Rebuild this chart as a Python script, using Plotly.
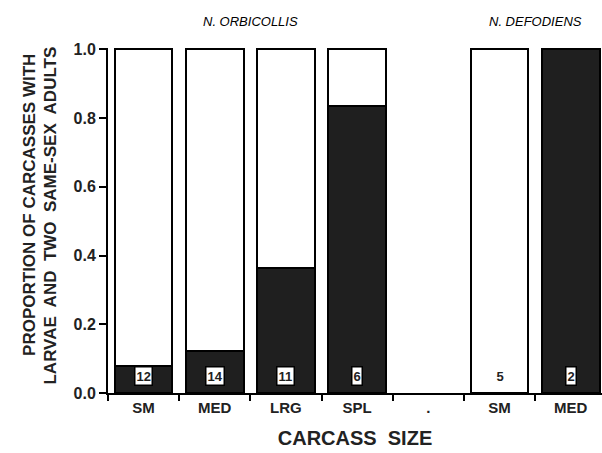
import plotly.graph_objects as go

# ---- data ----
categories = ["SM", "MED", "LRG", "SPL", ".", "SM", "MED"]
proportion = [0.078, 0.122, 0.365, 0.835, None, 0.0, 1.0]   # dark (proportion with two same-sex adults)
sample_n = ["12", "14", "11", "6", None, "5", "2"]
group_titles = ["N. ORBICOLLIS", "N. DEFODIENS"]
group_centers = [1.5, 5.5]
y_ticks = [0.0, 0.2, 0.4, 0.6, 0.8, 1.0]

x = list(range(len(categories)))
dark = [p if (p is not None and p > 0) else None for p in proportion]
white = [(1 - p) if (p is not None and p < 1) else None for p in proportion]

BAR_W = 0.81
DARK = "#1f1f1f"
FONT = "Liberation Sans, Arial, sans-serif"
SP = "&nbsp; "

fig = go.Figure()
fig.add_trace(go.Bar(x=x, y=dark, width=BAR_W, marker=dict(color=DARK, line=dict(color="black", width=2)),
                     showlegend=False, hoverinfo="skip"))
fig.add_trace(go.Bar(x=x, y=white, base=[p if p is not None else 0 for p in proportion], width=BAR_W,
                     marker=dict(color="white", line=dict(color="black", width=2)),
                     showlegend=False, hoverinfo="skip"))

for xi, n, p in zip(x, sample_n, proportion):
    if n is None:
        continue
    boxed = p is not None and p > 0
    fig.add_annotation(x=xi, y=0.05, xref="x", yref="y", text="<b>" + n + "</b>", showarrow=False,
                       font=dict(family=FONT, size=13, color="#222"),
                       bgcolor="white" if boxed else "rgba(0,0,0,0)",
                       bordercolor="black" if boxed else "rgba(0,0,0,0)",
                       borderwidth=1.5, borderpad=1)

for t, c in zip(group_titles, group_centers):
    fig.add_annotation(x=c, y=1.0, xref="x", yref="paper", yshift=36, text="<i>" + t + "</i>",
                       showarrow=False, font=dict(family=FONT, size=13, color="black"))

# y-axis title (two lines)
fig.add_annotation(x=-0.158, y=0.545, xref="paper", yref="paper", xanchor="center", yanchor="middle",
                   text="<b>" + " ".join(["PROPORTION", "OF", "CARCASSES", "WITH"]) + "</b>",
                   textangle=-90, showarrow=False, font=dict(family=FONT, size=17, color="#222"))
fig.add_annotation(x=-0.117, y=0.515, xref="paper", yref="paper", xanchor="center", yanchor="middle",
                   text="<b>" + SP.join(["LARVAE", "AND", "TWO", "SAME-SEX", "ADULTS"]) + "</b>",
                   textangle=-90, showarrow=False, font=dict(family=FONT, size=17, color="#222"))

fig.update_layout(
    width=602, height=453,
    margin=dict(l=108, r=0, t=48, b=60),
    barmode="overlay", bargap=0,
    plot_bgcolor="white", paper_bgcolor="white",
    font=dict(family=FONT, color="#222"),
    xaxis=dict(
        range=[-0.5, 6.44], tickmode="array", tickvals=x,
        ticktext=["<b>" + c + "</b>" for c in categories],
        tickfont=dict(family=FONT, size=15, color="#222"),
        ticks="", showline=True, linecolor="black", linewidth=2, showgrid=False, zeroline=False,
        minor=dict(tickmode="array", tickvals=[i + 0.5 for i in range(-1, 7)], ticks="outside",
                   ticklen=6, tickwidth=2, tickcolor="black", showgrid=False),
        title=dict(text="<b>CARCASS" + SP + "SIZE</b>", font=dict(family=FONT, size=20, color="#222"), standoff=16),
    ),
    yaxis=dict(
        range=[0, 1.004], tickmode="array", tickvals=y_ticks,
        ticktext=["<b>%.1f</b>" % v for v in y_ticks],
        tickfont=dict(family=FONT, size=16, color="#222"),
        ticks="outside", ticklen=7, tickwidth=2, tickcolor="black",
        showline=True, linecolor="black", linewidth=2, showgrid=False, zeroline=False,
    ),
)

fig.write_html("out.html")
